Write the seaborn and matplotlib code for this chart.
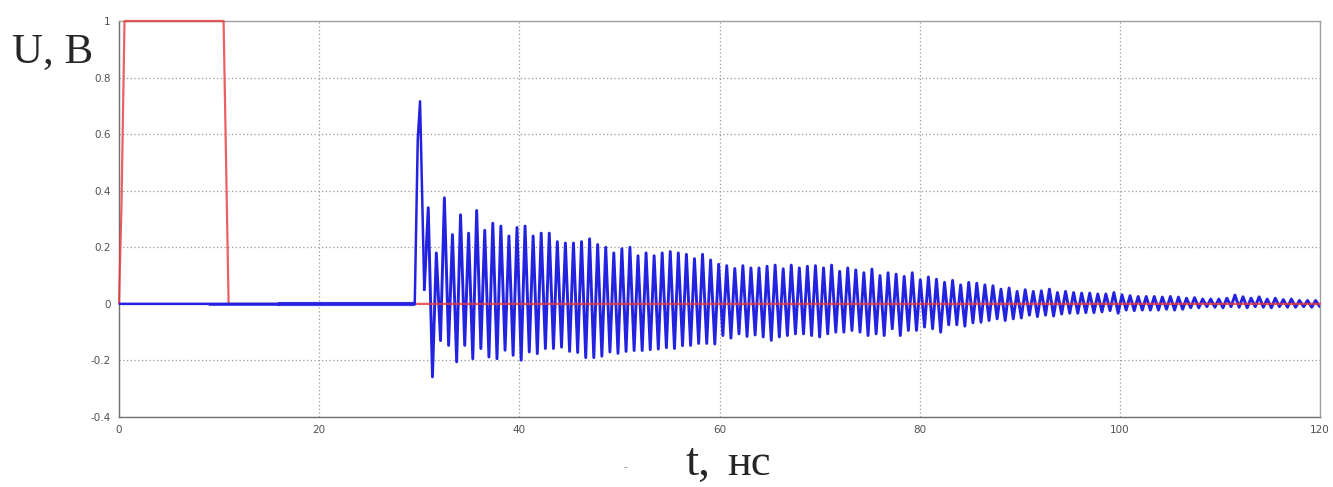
import numpy as np
import pandas as pd
import matplotlib
matplotlib.use("Agg")
import matplotlib.pyplot as plt
import seaborn as sns

# ---------------- data ----------------
# red input pulse, t in ns, U in V
pulse_t = [0.0, 0.25, 0.55, 10.45, 10.95, 120.0]
pulse_u = [0.0, 0.35, 1.0, 1.0, 0.0, 0.0]

# blue response: flat lead-in, front and first big peak
lead_t = [0.0, 29.55, 29.85, 30.08, 30.5]
lead_u = [0.0, 0.0, 0.58, 0.716, 0.05]

# ringing: one maximum and one minimum per period
osc_t0 = 30.9          # time of first maximum after the main peak
osc_period = 0.806     # ns
osc_trough_lag = 0.42  # minimum follows the maximum by this much
osc_peaks = [
    0.34, 0.18, 0.375, 0.245, 0.315, 0.25, 0.33, 0.26, 0.285, 0.275, 0.24, 0.27,
    0.275, 0.24, 0.25, 0.25, 0.22,
    0.215, 0.215, 0.22, 0.23, 0.21, 0.2, 0.18, 0.195, 0.2, 0.17, 0.18, 0.17,
    0.18, 0.185, 0.18, 0.175, 0.16, 0.175, 0.155,
    0.14, 0.135, 0.125, 0.135, 0.127, 0.127, 0.133, 0.137, 0.124, 0.137, 0.127,
    0.133, 0.135, 0.127, 0.137, 0.115, 0.127, 0.12, 0.11, 0.123,
    0.1, 0.11, 0.105, 0.097, 0.11, 0.085, 0.095, 0.087, 0.076, 0.083, 0.067,
    0.076, 0.073, 0.067, 0.064, 0.052, 0.056, 0.044, 0.05,
    0.044, 0.046, 0.052, 0.04, 0.044, 0.04, 0.038, 0.038, 0.035, 0.035, 0.04,
    0.032, 0.029, 0.026, 0.026, 0.026, 0.024, 0.026, 0.024,
    0.02, 0.022, 0.017, 0.017, 0.017, 0.02, 0.031, 0.025, 0.02, 0.025, 0.017,
    0.02, 0.015, 0.017, 0.012, 0.012, 0.012,
]
osc_troughs = [
    -0.258, -0.13, -0.147, -0.205, -0.147, -0.194, -0.158, -0.188, -0.194, -0.164,
    -0.182, -0.199, -0.17, -0.176, -0.158, -0.158, -0.153,
    -0.168, -0.172, -0.19, -0.19, -0.185, -0.17, -0.175, -0.168, -0.165, -0.165,
    -0.162, -0.16, -0.155, -0.158, -0.148, -0.147, -0.14, -0.14, -0.142,
    -0.112, -0.121, -0.106, -0.115, -0.11, -0.117, -0.129, -0.117, -0.112, -0.106,
    -0.106, -0.112, -0.117, -0.106, -0.1, -0.1, -0.094, -0.1, -0.112,
    -0.106, -0.112, -0.088, -0.112, -0.094, -0.094, -0.082, -0.088, -0.1, -0.074,
    -0.074, -0.079, -0.067, -0.065, -0.059, -0.053, -0.059, -0.053, -0.05,
    -0.04, -0.045, -0.04, -0.043, -0.036, -0.033, -0.033, -0.031, -0.031, -0.028,
    -0.024, -0.033, -0.022, -0.024, -0.022, -0.022, -0.022, -0.019, -0.022, -0.019,
    -0.014, -0.014, -0.01, -0.012, -0.014, -0.01, -0.012, -0.014, -0.01, -0.012,
    -0.014, -0.01, -0.012, -0.012, -0.01, -0.012, -0.01,
]

x_ticks = [0, 20, 40, 60, 80, 100, 120]
y_ticks = [-0.4, -0.2, 0, 0.2, 0.4, 0.6, 0.8, 1]
y_tick_labels = ["-0.4", "-0.2", "0", "0.2", "0.4", "0.6", "0.8", "1"]

# ---------------- build tables ----------------
n = len(osc_peaks)
pk_t = osc_t0 + osc_period * np.arange(n)
tr_t = pk_t + osc_trough_lag
osc_t = np.empty(2 * n)
osc_u = np.empty(2 * n)
osc_t[0::2], osc_t[1::2] = pk_t, tr_t
osc_u[0::2], osc_u[1::2] = osc_peaks, osc_troughs
osc = pd.DataFrame({"t": np.concatenate([[lead_t[-1]], osc_t]),
                    "u": np.concatenate([[lead_u[-1]], osc_u])})
osc = osc[osc.t <= 120]
lead = pd.DataFrame({"t": lead_t, "u": lead_u})
red = pd.DataFrame({"t": pulse_t, "u": pulse_u})
# weak pre-signal noise band, shown as a thickened baseline
noise1 = pd.DataFrame({"t": [9.0, 16.0], "u": [0.0, 0.0]})
noise2 = pd.DataFrame({"t": [16.0, 29.5], "u": [0.0, 0.0]})

# ---------------- draw ----------------
sns.set_style("white")
fig = plt.figure(figsize=(13.33, 4.87), dpi=100)
ax = fig.add_axes([119 / 1333, 1 - 417 / 487, (1320 - 119) / 1333, (417 - 21) / 487])

blue_c = "#2222e0"
red_c = "#e8383c"


def draw(df, color, lw, z, alpha=1.0, clip=True):
    sns.lineplot(data=df, x="t", y="u", ax=ax, sort=False, estimator=None,
                 color=color, lw=lw, alpha=alpha)
    ln = ax.lines[-1]
    ln.set_zorder(z)
    ln.set_clip_on(clip)


draw(osc, blue_c, 2.1, 2.0)
draw(red, red_c, 1.6, 2.6, alpha=0.8, clip=False)
draw(noise1, blue_c, 2.0, 2.7, alpha=0.85)
draw(noise2, blue_c, 3.0, 2.7, alpha=0.85)
draw(lead, blue_c, 1.8, 2.8)

ax.set_xlim(0, 120)
ax.set_ylim(-0.4, 1.0)
ax.set_xticks(x_ticks)
ax.set_xticklabels([str(v) for v in x_ticks])
ax.set_yticks(y_ticks)
ax.set_yticklabels(y_tick_labels)
ax.grid(True, color="#9a9a9a", linestyle=(0, (1, 2)), lw=0.9)
ax.set_axisbelow(True)
for s in ax.spines.values():
    s.set_color("#a0a0a0")
    s.set_linewidth(1.0)
ax.spines["left"].set_color("#707070")
ax.spines["bottom"].set_color("#707070")
ax.tick_params(axis="both", direction="out", length=3, width=0.8,
               color="#707070", labelsize=7.5, labelcolor="#505050", pad=3)
ax.set_xlabel("")
ax.set_ylabel("")

serif = ["Liberation Serif", "DejaVu Serif"]
fig.text(12 / 1333, 1 - 62 / 487, "U, B", fontsize=31, family=serif,
         va="baseline", ha="left")
fig.text(685 / 1333, 1 - 475 / 487, "t,", fontsize=34, family=serif,
         va="baseline", ha="left")
fig.text(727 / 1333, 1 - 475 / 487, "нс", fontsize=32, family=serif,
         va="baseline", ha="left")
fig.text(625 / 1333, 1 - 470 / 487, "-", fontsize=8, color="#888888",
         va="baseline", ha="center")

fig.savefig("out.png", dpi=100)
